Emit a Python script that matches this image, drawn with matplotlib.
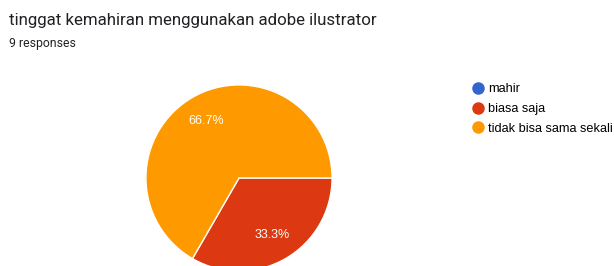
import matplotlib
matplotlib.use("Agg")
import matplotlib.pyplot as plt
from matplotlib.lines import Line2D

# data
labels = ["mahir", "biasa saja", "tidak bisa sama sekali"]
counts = [0, 3, 6]
colors = ["#3366cc", "#dc3912", "#ff9900"]
title = "tinggat kemahiran menggunakan adobe ilustrator"
subtitle = "9 responses"

W, H = 614, 266
fig = plt.figure(figsize=(W / 100, H / 100), dpi=100)

# pie axes: centre (239, 178) px, radius 94 px
cx, cy, r = 239, 178, 94
ax = fig.add_axes([(cx - r) / W, (H - cy - r) / H, 2 * r / W, 2 * r / H])
ax.set_aspect("equal")

wedges, texts, autotexts = ax.pie(
    counts, colors=colors, startangle=0, counterclock=False,
    autopct=lambda p: f"{p:.1f}%" if p > 0 else "",
    pctdistance=0.71, radius=1,
    wedgeprops=dict(edgecolor="white", linewidth=1),
    textprops=dict(color="white", fontsize=9, family=["Liberation Sans", "DejaVu Sans"]),
)
ax.set_xlim(-1.01, 1.01)
ax.set_ylim(-1.01, 1.01)
for w in wedges:
    w.set_clip_on(False)

fig.text(9 / W, 1 - 21 / H, title, fontsize=12.2, color="#202124",
         family=["Roboto", "DejaVu Sans"], va="center", ha="left")
fig.text(9 / W, 1 - 43 / H, subtitle, fontsize=8.8, color="#202124",
         family=["Roboto", "DejaVu Sans"], va="center", ha="left")

handles = [Line2D([], [], marker="o", linestyle="none", markersize=8,
                  markerfacecolor=c, markeredgecolor=c) for c in colors]
fig.legend(handles, labels, loc="upper left", bbox_to_anchor=(470 / W, 1 - 83.5 / H),
           frameon=False, handletextpad=0.2, labelspacing=0.6,
           handlelength=1.2, borderaxespad=0, borderpad=0,
           prop=dict(family=["Liberation Sans", "DejaVu Sans"], size=9.2))

fig.savefig("out.png", dpi=100, facecolor="white")
